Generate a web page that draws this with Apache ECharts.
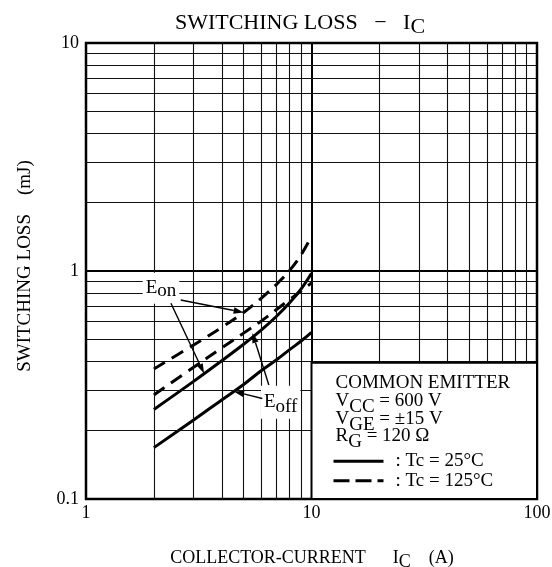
<!DOCTYPE html>
<html><head><meta charset="utf-8">
<script src="https://cdn.jsdelivr.net/npm/echarts@6/dist/echarts.min.js"></script>
<style>html,body{margin:0;padding:0;background:#fff}#c{width:552px;height:567px}</style>
</head><body><div id="c"></div>
<script>
const FONT = '"Liberation Serif", "Times New Roman", serif';

// ---- data ----
const currents = [2, 3, 4, 5, 6, 7, 8, 9, 10];              // Ic (A)
const eon25   = [0.247, 0.328, 0.404, 0.477, 0.552, 0.633, 0.725, 0.835, 0.978];
const eon125  = [0.372, 0.474, 0.566, 0.658, 0.761, 0.874, 1.006, 1.179, 1.420];
const eoff25  = [0.168, 0.222, 0.272, 0.318, 0.366, 0.408, 0.452, 0.493, 0.538];
const eoff125 = [0.286, 0.378, 0.460, 0.534, 0.604, 0.678, 0.750, 0.818, 0.886];
const xTicks = [1, 10, 100];
const yTicks = [0.1, 1, 10];
const xMinorGrid = [2, 3, 4, 5, 6, 7, 8, 9, 20, 30, 40, 50, 60, 70, 80, 90];
const yMinorGrid = [0.2, 0.3, 0.4, 0.5, 0.6, 0.7, 0.8, 0.9, 2, 3, 4, 5, 6, 7, 8, 9];
// annotation anchors in data coordinates
const eonLabelAt  = [2.15, 0.84];
const eoffLabelAt = [7.3, 0.266];
const eonArrows  = [[[2.63, 0.746], [5.0, 0.658]], [[2.38, 0.722], [3.34, 0.355]]];
const eoffArrows = [[[6.47, 0.316], [5.47, 0.535]], [[6.05, 0.276], [4.53, 0.296]]];
const legendBox = [[10, 0.4], [100, 0.1]];

const chart = echarts.init(document.getElementById('c'), null, {renderer: 'canvas', width: 552, height: 567});
const pairs = vals => currents.map((x, i) => [x, vals[i]]);
const solid = {color: '#000', width: 3, type: 'solid'};
const dashed = {color: '#000', width: 3, type: [13, 8]};
const curve = (name, vals, ls) => ({
  name, type: 'line', data: pairs(vals), showSymbol: false, symbol: 'none',
  smooth: 0.4, lineStyle: ls, z: 3, silent: true, animation: false
});
const axisCommon = {
  type: 'log', logBase: 10,
  axisLine: {show: true, onZero: false, lineStyle: {color: '#000', width: 2}},
  axisTick: {show: false},
  splitLine: {show: true, lineStyle: {color: '#000', width: 2}},
  minorTick: {show: false}, minorSplitLine: {show: false},
  axisLabel: {color: '#000', fontFamily: FONT, fontSize: 18, formatter: v => String(v)}
};

chart.setOption({
  animation: false,
  backgroundColor: '#fff',
  grid: {left: 86, right: 15, top: 43, bottom: 68, show: true, borderColor: '#000', borderWidth: 2.5,
         containLabel: false, outerBoundsMode: 'none'},
  xAxis: Object.assign({}, axisCommon, {min: xTicks[0], max: xTicks[xTicks.length - 1],
         axisLabel: Object.assign({}, axisCommon.axisLabel, {margin: 5})}),
  yAxis: Object.assign({}, axisCommon, {min: yTicks[0], max: yTicks[yTicks.length - 1],
         axisLabel: Object.assign({}, axisCommon.axisLabel, {margin: 7})}),
  series: [
    {type: 'line', data: [], z: 1, silent: true, animation: false,
     markLine: {silent: true, animation: false, symbol: ['none', 'none'], label: {show: false},
       lineStyle: {color: '#111', width: 1.1, type: 'solid'},
       emphasis: {disabled: true},
       data: xMinorGrid.map(v => ({xAxis: v})).concat(yMinorGrid.map(v => ({yAxis: v})))}},
    curve('Eon 25', eon25, solid),
    curve('Eoff 25', eoff25, solid),
    curve('Eon 125', eon125, dashed),
    curve('Eoff 125', eoff125, dashed)
  ]
});

const P = (x, y) => chart.convertToPixel({gridIndex: 0}, [x, y]);
const sub = (shift, size) => ({fontFamily: FONT, fontSize: size, fill: '#000', padding: [shift * 2, 0, 0, 0]});
const T = (x, y, text, o) => {
  o = o || {};
  return {type: 'text', x, y, rotation: o.rotation || 0, z: o.z || 120,
    style: {text, fontFamily: FONT, fontSize: o.size || 19, fill: '#000',
      align: o.align || 'left', verticalAlign: 'middle',
      backgroundColor: o.bg, padding: o.pad,
      rich: {s: sub(o.shift || 5, o.size || 19)}}};
};
const arrow = (s, e) => {
  const dx = e[0] - s[0], dy = e[1] - s[1], L = Math.hypot(dx, dy), ux = dx / L, uy = dy / L;
  const hl = 10, hw = 3.2, bx = e[0] - ux * hl, by = e[1] - uy * hl;
  return [
    {type: 'line', z: 130, shape: {x1: s[0], y1: s[1], x2: bx, y2: by}, style: {stroke: '#000', lineWidth: 1.4}},
    {type: 'polygon', z: 130, shape: {points: [[e[0], e[1]], [bx - uy * hw, by + ux * hw], [bx + uy * hw, by - ux * hw]]},
     style: {fill: '#000'}}
  ];
};

const a = P(legendBox[0][0], legendBox[0][1]), b = P(legendBox[1][0], legendBox[1][1]);
const eonP = P(eonLabelAt[0], eonLabelAt[1]), eoffP = P(eoffLabelAt[0], eoffLabelAt[1]);
const lx = a[0] + 24;
let g = [
  // legend box
  {type: 'rect', z: 100, shape: {x: a[0], y: a[1] + 1, width: b[0] - a[0], height: b[1] - a[1] - 1},
   style: {fill: '#fff', stroke: '#000', lineWidth: 2}},
  T(lx, a[1] + 21, 'COMMON EMITTER'),
  T(lx, a[1] + 39, 'V{s|CC} = 600 V', {shift: 6}),
  T(lx, a[1] + 57, 'V{s|GE} = ±15 V', {shift: 6}),
  T(lx, a[1] + 74, 'R{s|G} = 120 Ω', {shift: 6}),
  {type: 'line', z: 120, shape: {x1: lx - 2, y1: a[1] + 99.5, x2: lx + 48, y2: a[1] + 99.5}, style: {stroke: '#000', lineWidth: 3}},
  T(lx + 60, a[1] + 99, ': Tc = 25°C'),
  {type: 'line', z: 120, shape: {x1: lx - 2, y1: a[1] + 119, x2: lx + 48, y2: a[1] + 119}, style: {stroke: '#000', lineWidth: 3, lineDash: [16, 6]}},
  T(lx + 60, a[1] + 119, ': Tc = 125°C'),
  // labels
  T(eonP[0], eonP[1], 'E{s|on}', {align: 'center', bg: '#fff', pad: [3, 3, 3, 3], shift: 3}),
  T(eoffP[0], eoffP[1], 'E{s|off}', {align: 'center', bg: '#fff', pad: [2, 3, 2, 3], shift: 5}),
  // title and axis names
  T(300, 23, 'SWITCHING LOSS   −   I{s|C}', {align: 'center', size: 22, shift: 4}),
  T(312, 558, 'COLLECTOR-CURRENT      I{s|C}    (A)', {align: 'center', size: 18, shift: 4}),
  T(25, 266, 'SWITCHING LOSS    (mJ)', {align: 'center', size: 19, rotation: Math.PI / 2})
];
eonArrows.concat(eoffArrows).forEach(ar => { g = g.concat(arrow(P(ar[0][0], ar[0][1]), P(ar[1][0], ar[1][1]))); });
chart.setOption({graphic: g});
</script>
</body></html>
